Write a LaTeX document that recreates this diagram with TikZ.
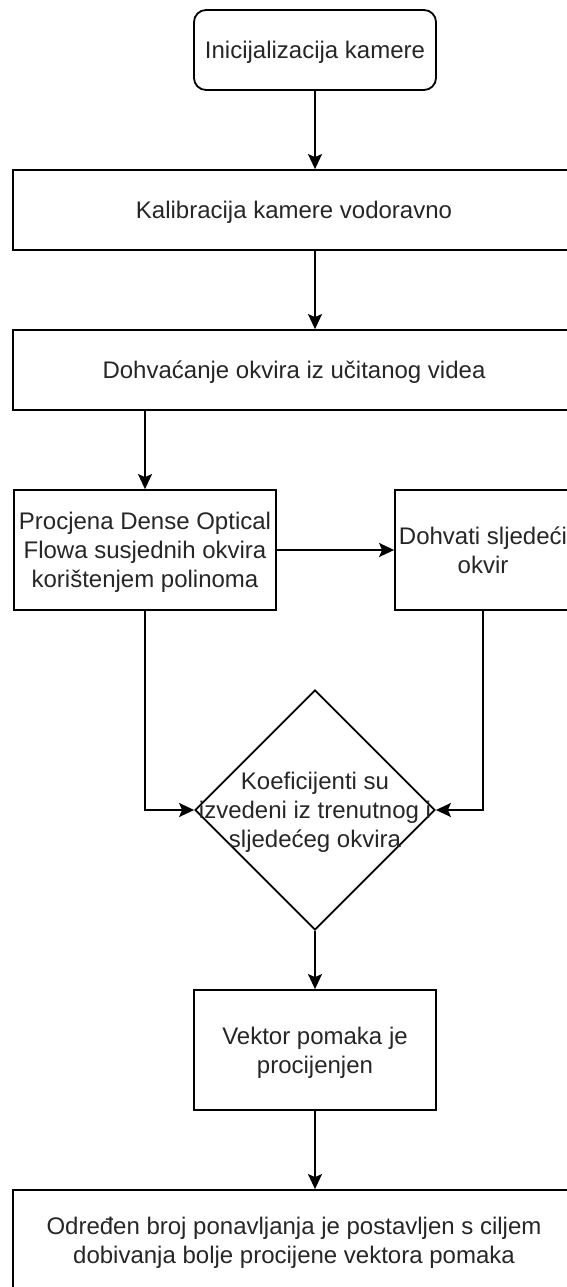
\documentclass[tikz,border=0pt]{standalone}
\usepackage{fontspec}
\setmainfont{Liberation Sans}
\usetikzlibrary{shapes.geometric,arrows.meta}

\begin{document}
\begin{tikzpicture}[x=1pt, y=-1pt, line width=1.8pt,
    every node/.style={font=\fontsize{24}{29}\selectfont, text=black!85, align=center, text depth=0pt},
    proces/.style={draw=black, rectangle, inner sep=0pt},
    pocetak/.style={proces, rounded corners=12pt},
    odluka/.style={draw=black, diamond, aspect=1, inner sep=0pt, minimum size=240pt},
    strelica/.style={-{Stealth[length=15pt, width=14pt, inset=3pt]}}]
    \useasboundingbox (0,0) rectangle (566,1287);
    \node[pocetak, minimum width=242pt, minimum height=80pt] (init) at (315,50) {Inicijalizacija kamere};
    \node[proces, minimum width=562pt, minimum height=80pt] (kalib) at (294,210) {Kalibracija kamere vodoravno};
    \node[proces, minimum width=562pt, minimum height=80pt] (dohvat) at (294,370) {Dohvaćanje okvira iz učitanog videa};
    \node[proces, minimum width=262pt, minimum height=120pt] (procjena) at (145,550) {Procjena Dense Optical\\Flowa susjednih okvira\\korištenjem polinoma};
    \node[proces, minimum width=176pt, minimum height=120pt] (sljedeci) at (483,550) {Dohvati sljedeći\\okvir};
    \node[odluka] (koef) at (315,810) {};
    \node (koeftekst) at (koef.center) {Koeficijenti su\\izvedeni iz trenutnog i\\sljedećeg okvira};
    \node[proces, minimum width=242pt, minimum height=120pt] (vektor) at (315,1050) {Vektor pomaka je\\procijenjen};
    \node[proces, minimum width=562pt, minimum height=100pt] (ponavljanje) at (294,1240) {Određen broj ponavljanja je postavljen s ciljem\\dobivanja bolje procijene vektora pomaka};
    \draw[strelica] (init.south) -- (init.south |- kalib.north);
    \draw[strelica] (kalib.south -| init.south) -- (dohvat.north -| init.south);
    \draw[strelica] (dohvat.south -| procjena.north) -- (procjena.north);
    \draw[strelica] (procjena.east) -- (sljedeci.west);
    \draw[strelica] (procjena.south) |- (koef.west);
    \draw[strelica] (sljedeci.south) |- (koef.east);
    \draw[strelica] (koef.south) -- (vektor.north);
    \draw[strelica] (vektor.south) -- (vektor.south |- ponavljanje.north);
\end{tikzpicture}
\end{document}
